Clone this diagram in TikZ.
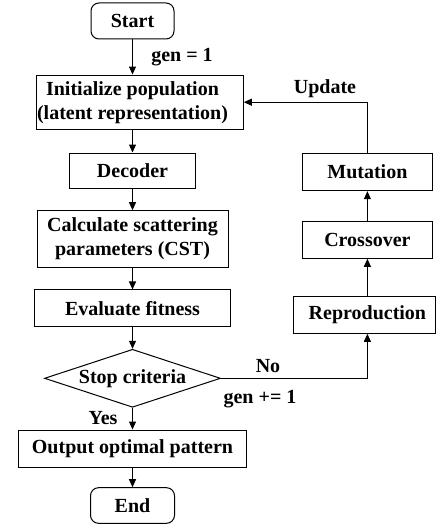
\documentclass[tikz,border=0pt]{standalone}
\usepackage{fontspec}
\setmainfont{Liberation Serif}
\usetikzlibrary{shapes.geometric,arrows.meta,calc}
\begin{document}
\begin{tikzpicture}[x=1pt,y=-1pt,
  line width=1pt,
  every node/.style={font=\fontsize{20}{24}\selectfont\bfseries},
  box/.style={draw, rectangle, inner sep=0pt, align=center},
  term/.style={draw, rectangle, rounded corners=8pt, inner sep=0pt},
  txt/.style={inner sep=0pt, align=center},
  decision/.style={draw, diamond, aspect=3.03, inner sep=0pt},
  flow/.style={-{Triangle[length=8pt,width=7pt]}}]
\useasboundingbox (0,0) rectangle (437,524);

% main column
\node[term, minimum width=83pt, minimum height=36pt] (start) at (132.5,21) {Start};
\node[box, minimum width=206.6pt, minimum height=54.3pt] (init) at (140,102.2) {};
\node[txt] (initT) at (132.5,102.2) {Initialize population\\(latent representation)};
\node[box, minimum width=126pt, minimum height=35pt] (dec) at (132.5,170.5) {Decoder};
\node[box, minimum width=191pt, minimum height=56.6pt] (calc) at (132.5,239) {Calculate scattering\\parameters (CST)};
\node[box, minimum width=196pt, minimum height=36.7pt] (eval) at (132.5,308.3) {Evaluate fitness};
\node[decision, minimum width=176pt, minimum height=58pt] (stop) at (132.5,378.3) {Stop criteria};
\node[box, minimum width=227.4pt, minimum height=37.3pt] (out) at (132.5,448.7) {Output optimal pattern};
\node[term, minimum width=84pt, minimum height=35.6pt] (end) at (132.5,505.5) {End};

% loop column
\node[box, minimum width=130.4pt, minimum height=37.4pt] (mut) at (367.4,172) {Mutation};
\node[box, minimum width=130.4pt, minimum height=36.6pt] (cross) at (367.4,240) {Crossover};
\node[box, minimum width=142.2pt, minimum height=36.6pt] (rep) at (364.4,315) {};
\node[txt] (repT) at (367.4,315) {Reproduction};
\coordinate (loopx) at (367.4,0);

% connectors
\draw[flow] (start.south) -- (start.south |- init.north);
\draw[flow] (init.south -| start.south) -- (dec.north);
\draw[flow] (dec.south) -- (calc.north);
\draw[flow] (calc.south) -- (eval.north);
\draw[flow] (eval.south) -- (stop.north);
\draw[flow] (stop.south) -- (out.north);
\draw[flow] (out.south) -- (end.north);
\draw[flow] (stop.east) -| (loopx |- rep.south);
\draw[flow] (loopx |- rep.north) -- (cross.south);
\draw[flow] (cross.north) -- (mut.south);
\draw[flow] (mut.north) |- (init.east);

% labels
\node[txt] (gen1) at (182,57) {gen = 1};
\node[txt] (upd) at (325,89) {Update};
\node[txt] (no) at (268,366) {No};
\node[txt] (geninc) at (260,399) {gen += 1};
\node[txt] (yes) at (103,418) {Yes};
\end{tikzpicture}
\end{document}
